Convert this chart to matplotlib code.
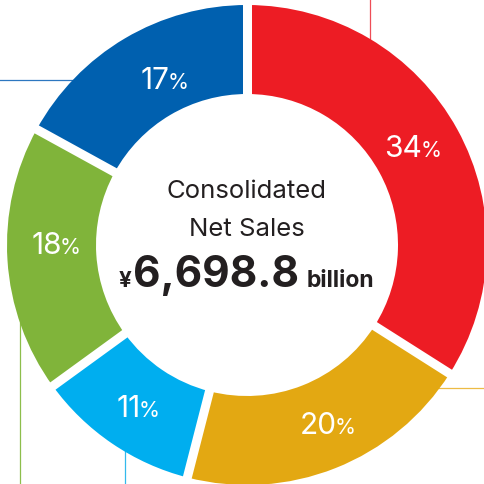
import matplotlib
matplotlib.use("Agg")
import matplotlib.pyplot as plt
import numpy as np

# ---- data ----
segments = ["Segment 1", "Segment 2", "Segment 3", "Segment 4", "Segment 5"]
shares = [34, 20, 11, 18, 17]
seg_colors = ["#ED1C24", "#E3A812", "#00AEEF", "#80B43A", "#0060AF"]
line_colors = ["#EE4D57", "#EDBB45", "#33B9EC", "#8DBE4C", "#2D77C0"]
title_lines = ["Consolidated", "Net Sales"]
total_prefix = "\u00a5"
total_value = "6,698.8"
total_unit = "billion"

FONT = ["Inter", "DejaVu Sans"]
W, H = 485, 484
fig = plt.figure(figsize=(W / 100, H / 100), dpi=100)
ax = fig.add_axes([0, 0, 1, 1])

cx, cy = 247, H - 245          # ring centre (data = pixels, y up)
r_out, r_in = 240, 151          # visible radii
gap_px = 9

wedges, _ = ax.pie(shares, center=(cx, cy), radius=r_out,
                   startangle=90, counterclock=False, colors=seg_colors,
                   wedgeprops=dict(width=(r_out - r_in), linewidth=0))
for w in wedges:
    w.set_zorder(3)

# white separators between segments
bounds = 90 - 360 * np.cumsum([0] + shares[:-1]) / sum(shares)
for a in bounds:
    c, s = np.cos(np.radians(a)), np.sin(np.radians(a))
    ax.plot([cx + (r_in - 5) * c, cx + (r_out + 5) * c],
            [cy + (r_in - 5) * s, cy + (r_out + 5) * s],
            color="white", lw=gap_px * 72 / 100, solid_capstyle="butt", zorder=4)

ax.set_xlim(0, W)
ax.set_ylim(0, H)
ax.set_aspect("equal")
ax.axis("off")

# ---- leader lines (drawn behind the ring) ----
r_mid = (r_out + r_in) / 2
def ring_x(y):
    return np.sqrt(max(r_mid**2 - (y - cy) ** 2, 0))
def ring_y(x):
    return np.sqrt(max(r_mid**2 - (x - cx) ** 2, 0))

lw_line = 0.9
x = 370.5
ax.plot([x, x], [H, cy + ring_y(x)], color=line_colors[0], lw=lw_line, zorder=1)
y = H - 388
ax.plot([cx + ring_x(y), W], [y, y], color=line_colors[1], lw=lw_line, zorder=1)
x = 125
ax.plot([x, x], [0, cy - ring_y(x)], color=line_colors[2], lw=lw_line, zorder=1)
x = 20
ax.plot([x, x], [0, cy - 20], color=line_colors[3], lw=lw_line, zorder=1)
y = H - 80
ax.plot([0, cx - ring_x(y)], [y, y], color=line_colors[4], lw=lw_line, zorder=1)

fig.canvas.draw()
renderer = fig.canvas.get_renderer()

def place_row(pieces, x_center, baseline, color):
    """pieces: list of (text, size, weight, gap_after_px)"""
    objs, widths = [], []
    for s, size, weight, gap in pieces:
        t = ax.text(0, baseline, s, fontsize=size, fontweight=weight,
                    family=FONT, color=color, ha="left",
                    va="baseline", zorder=5)
        objs.append(t)
        widths.append(t.get_window_extent(renderer).width)
    total = sum(widths) + sum(p[3] for p in pieces[:-1])
    x = x_center - total / 2
    for t, wdt, p in zip(objs, widths, pieces):
        t.set_x(x)
        x += wdt + p[3]
    return objs

# ---- percentage labels ----
label_nudge = [2.0, 2.7, 0.3, -3.9, -4.2]
label_r = [193, 196, 195, 191, 186]
start = 90.0
for share, nudge, rl in zip(shares, label_nudge, label_r):
    span = 360 * share / sum(shares)
    mid = start - span / 2 + nudge
    start -= span
    lx = cx + rl * np.cos(np.radians(mid))
    ly = cy + rl * np.sin(np.radians(mid))
    place_row([(str(share), 21.5, "normal", -2), ("%", 15.5, "normal", 0)],
              lx, ly - 10.5, "white")

# ---- centre text ----
dark = "#231F20"
place_row([(title_lines[0], 18.5, "normal", 0)], cx, H - 198, dark)
place_row([(title_lines[1], 18.5, "normal", 0)], cx, H - 236, dark)
place_row([(total_prefix, 16, "bold", 2), (total_value, 30.5, "bold", 8),
           (total_unit, 16.5, "bold", 0)], 246.5, H - 287, dark)

fig.savefig("out.png", dpi=100)
